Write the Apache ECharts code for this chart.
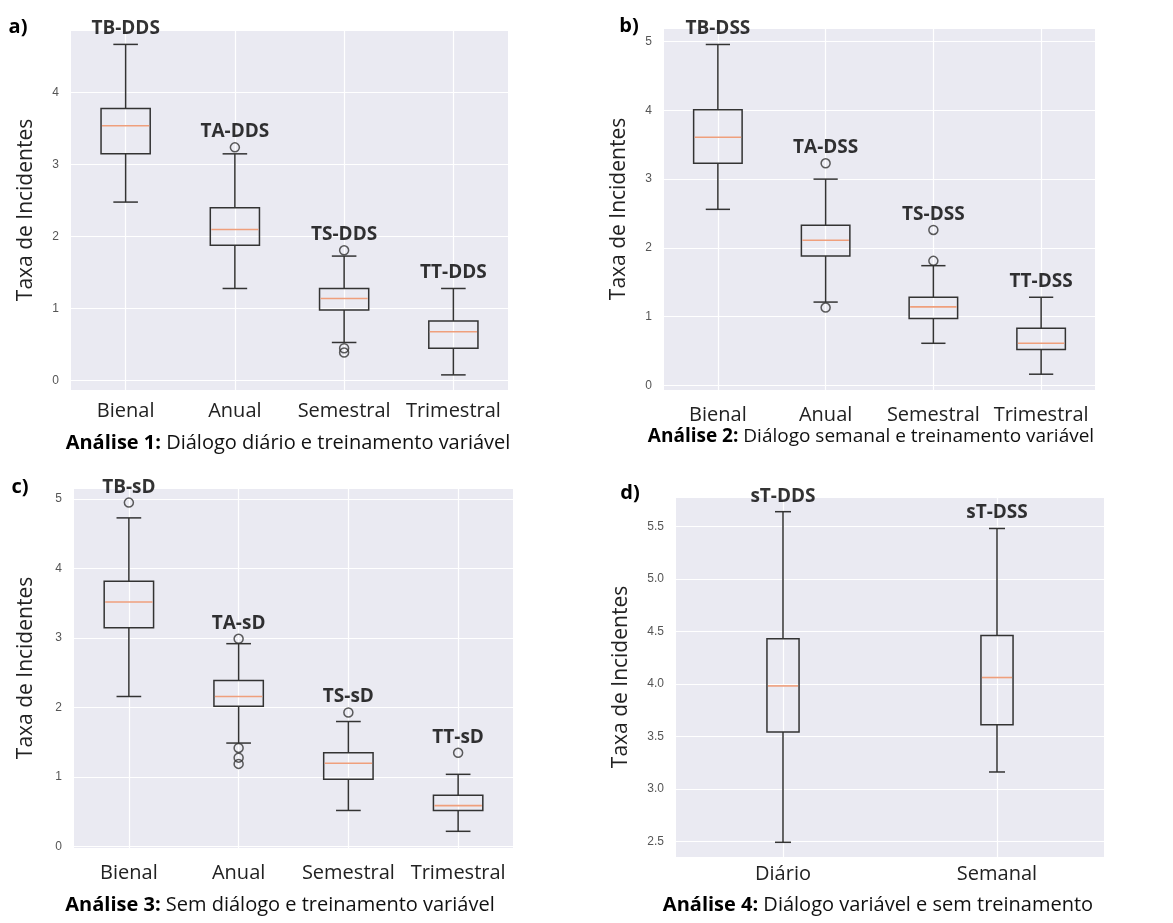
<!DOCTYPE html>
<html>
<head>
<meta charset="utf-8">
<title>Taxa de Incidentes</title>
<script src="https://cdn.jsdelivr.net/npm/echarts@6/dist/echarts.min.js"></script>
<style>
  html, body { margin: 0; padding: 0; background: #fff; }
  #chart { width: 1173px; height: 923px; }
</style>
</head>
<body>
<div id="chart"></div>
<script>
// categorias
const catsTreino = ['Bienal', 'Anual', 'Semestral', 'Trimestral']
const catsDialogo = ['Diário', 'Semanal']

// rotulos acima das caixas
const tagsA = ['TB-DDS', 'TA-DDS', 'TS-DDS', 'TT-DDS']
const tagsB = ['TB-DSS', 'TA-DSS', 'TS-DSS', 'TT-DSS']
const tagsC = ['TB-sD', 'TA-sD', 'TS-sD', 'TT-sD']
const tagsD = ['sT-DDS', 'sT-DSS']

// estatisticas: [min, Q1, mediana, Q3, max] (bigodes)
const boxA = [[2.48, 3.15, 3.54, 3.78, 4.67], [1.28, 1.88, 2.10, 2.40, 3.15], [0.53, 0.98, 1.14, 1.28, 1.73], [0.08, 0.45, 0.68, 0.83, 1.28]]
const boxB = [[2.56, 3.23, 3.61, 4.01, 4.96], [1.21, 1.88, 2.11, 2.33, 3.00], [0.61, 0.97, 1.14, 1.28, 1.74], [0.16, 0.52, 0.61, 0.83, 1.28]]
const boxC = [[2.16, 3.15, 3.52, 3.82, 4.73], [1.49, 2.02, 2.16, 2.39, 2.92], [0.52, 0.97, 1.20, 1.35, 1.80], [0.22, 0.52, 0.59, 0.74, 1.04]]
const boxD = [[2.49, 3.54, 3.98, 4.43, 5.64], [3.16, 3.61, 4.06, 4.46, 5.48]]

// outliers: [indice da categoria, valor]
const outA = [[1, 3.24], [2, 1.81], [2, 0.45], [2, 0.39]]
const outB = [[1, 3.23], [1, 1.13], [2, 2.26], [2, 1.81]]
const outC = [[0, 4.95], [1, 2.99], [1, 1.42], [1, 1.28], [1, 1.19], [2, 1.93], [3, 1.35]]
const outD = []

// textos
const yName = 'Taxa de Incidentes'
const letters = ['a)', 'b)', 'c)', 'd)']
const captionsBold = ['Análise 1:', 'Análise 2:', 'Análise 3:', 'Análise 4:']
const captionsText = [
  ' Diálogo diário e treinamento variável',
  ' Diálogo semanal e treinamento variável',
  ' Sem diálogo e treinamento variável',
  ' Diálogo variável e sem treinamento'
]

const FONT = 'Open Sans'
const BG = '#eaeaf2'
const DARK = '#333333'
const MEDIAN = '#ef9f7c'

// layout de cada painel (pixels)
const panels = [
  { grid: { left: 71, top: 30, width: 437, height: 360 }, y: [-0.13, 4.87], split: 5, step: 1, cats: catsTreino, tags: tagsA, box: boxA, out: outA, wfrac: 0.45, nameGap: 34, labMargin: 11,
    letter: [18, 27], caption: [288, 443], capSize: 20 },
  { grid: { left: 664, top: 28, width: 431, height: 362 }, y: [-0.07, 5.2], split: 5, step: 1, cats: catsTreino, tags: tagsB, box: boxB, out: outB, wfrac: 0.45, nameGap: 34, labMargin: 15,
    letter: [629, 26], caption: [871, 437], capSize: 19 },
  { grid: { left: 74, top: 488, width: 439, height: 360 }, y: [-0.02, 5.16], split: 5, step: 1, cats: catsTreino, tags: tagsC, box: boxC, out: outC, wfrac: 0.45, nameGap: 37, labMargin: 15,
    letter: [20, 487], caption: [280, 905], capSize: 20 },
  { grid: { left: 676, top: 497, width: 428, height: 360 }, y: [2.35, 5.78], split: 7, step: 0.5, cats: catsDialogo, tags: tagsD, box: boxD, out: outD, wfrac: 0.15, nameGap: 44, labMargin: 7,
    letter: [630, 493], caption: [878, 905], capSize: 20 }
]

const makeRenderBox = (wfrac) => (params, api) => {
  const x = api.value(0)
  const lo = api.coord([x, api.value(1)])
  const q1 = api.coord([x, api.value(2)])
  const md = api.coord([x, api.value(3)])
  const q3 = api.coord([x, api.value(4)])
  const hi = api.coord([x, api.value(5)])
  const band = api.size([1, 0])[0]
  const w = band * wfrac
  const c = w / 4
  const cx = lo[0]
  const line = (x1, y1, x2, y2, color, lw) => ({
    type: 'line',
    shape: { x1, y1, x2, y2 },
    style: { stroke: color, lineWidth: lw }
  })
  return {
    type: 'group',
    children: [
      line(cx, q3[1], cx, hi[1], DARK, 1.5),
      line(cx, q1[1], cx, lo[1], DARK, 1.5),
      line(cx - c, hi[1], cx + c, hi[1], DARK, 1.5),
      line(cx - c, lo[1], cx + c, lo[1], DARK, 1.5),
      {
        type: 'rect',
        shape: { x: cx - w / 2, y: q3[1], width: w, height: q1[1] - q3[1] },
        style: { fill: 'none', stroke: DARK, lineWidth: 1.5 }
      },
      line(cx - w / 2 + 1, md[1], cx + w / 2 - 1, md[1], MEDIAN, 1.6)
    ]
  }
}

const grids = []
const xAxes = []
const yAxes = []
const series = []
const graphics = []

panels.forEach((p, i) => {
  grids.push(Object.assign({ backgroundColor: BG, show: true, borderWidth: 0 }, p.grid))

  xAxes.push({
    type: 'category',
    gridIndex: i,
    data: p.cats,
    axisLine: { show: false },
    axisTick: { show: false },
    axisLabel: { interval: 0, margin: p.labMargin, fontSize: 20, color: '#222', fontFamily: FONT },
    splitLine: { show: true, interval: 0, alignWithLabel: true, lineStyle: { color: '#fff', width: 1.2 } }
  })

  yAxes.push({
    type: 'value',
    gridIndex: i,
    min: p.y[0],
    max: p.y[1],
    splitNumber: p.split,
    name: yName,
    nameLocation: 'middle',
    nameGap: p.nameGap,
    nameTextStyle: { fontSize: 21, color: '#222', fontFamily: FONT },
    axisLine: { show: false },
    axisTick: { show: false },
    axisLabel: {
      margin: 12,
      fontSize: 12,
      color: '#555',
      fontFamily: 'Liberation Sans',
      formatter: (v) => {
        const k = v / p.step
        if (Math.abs(k - Math.round(k)) > 1e-6) return ''
        return p.step < 1 ? v.toFixed(1) : String(Math.round(v))
      }
    },
    splitLine: { show: true, lineStyle: { color: '#fff', width: 1.2 } }
  })

  series.push({
    type: 'custom',
    xAxisIndex: i,
    yAxisIndex: i,
    renderItem: makeRenderBox(p.wfrac),
    encode: { x: 0, y: [1, 2, 3, 4, 5] },
    data: p.box.map((b, k) => [k].concat(b)),
    silent: true,
    z: 3
  })

  series.push({
    type: 'scatter',
    xAxisIndex: i,
    yAxisIndex: i,
    symbol: 'circle',
    symbolSize: 9,
    itemStyle: { color: 'rgba(0,0,0,0)', borderColor: DARK, borderWidth: 1.5 },
    data: p.out,
    silent: true,
    z: 4
  })

  // rotulo acima do ponto mais alto de cada caixa
  const tagData = p.tags.map((t, k) => {
    let top = p.box[k][4]
    p.out.forEach((o) => { if (o[0] === k && o[1] > top) top = o[1] })
    return [k, top, t]
  })
  series.push({
    type: 'scatter',
    xAxisIndex: i,
    yAxisIndex: i,
    symbolSize: 0,
    data: tagData,
    clip: false,
    silent: true,
    label: {
      show: true,
      position: 'top',
      distance: 6,
      formatter: (d) => d.data[2],
      fontSize: 19,
      fontWeight: 'bold',
      color: '#000',
      fontFamily: FONT
    },
    z: 5
  })

  graphics.push({
    type: 'text',
    x: p.letter[0],
    y: p.letter[1],
    style: {
      text: letters[i],
      font: 'bold 20px "' + FONT + '"',
      fill: '#000',
      align: 'center',
      verticalAlign: 'middle'
    }
  })

  graphics.push({
    type: 'text',
    x: p.caption[0],
    y: p.caption[1],
    style: {
      text: '{b|' + captionsBold[i] + '}{n|' + captionsText[i] + '}',
      align: 'center',
      verticalAlign: 'middle',
      rich: {
        b: { fontFamily: FONT, fontSize: p.capSize, fontWeight: 'bold', fill: '#000' },
        n: { fontFamily: FONT, fontSize: p.capSize, fill: '#111' }
      }
    }
  })
})

const chart = echarts.init(document.getElementById('chart'))
chart.setOption({
  animation: false,
  backgroundColor: '#fff',
  grid: grids,
  xAxis: xAxes,
  yAxis: yAxes,
  series: series,
  graphic: graphics
})
</script>
</body>
</html>
